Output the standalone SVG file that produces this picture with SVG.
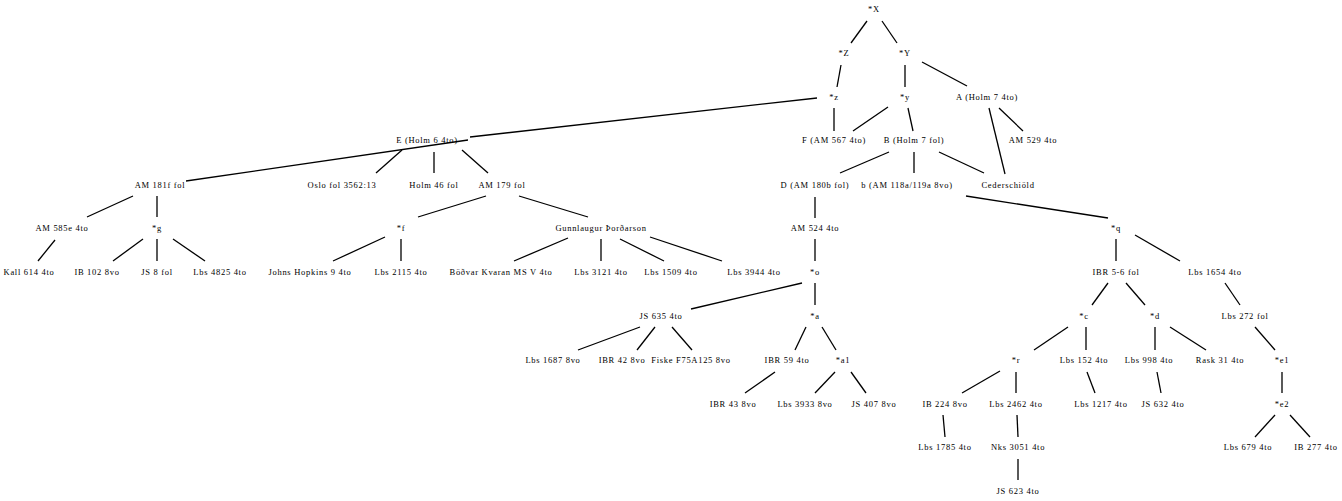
<svg xmlns="http://www.w3.org/2000/svg" width="1342" height="501" viewBox="0 0 1342 501">
<style>
text{font-family:"Liberation Serif","Times New Roman",serif;font-size:8.5px;letter-spacing:0.7px;text-anchor:middle;fill:#000}
line{stroke:#000;stroke-width:1.3}
</style>
<rect width="1342" height="501" fill="#fff"/>
<g id="edges">
<line x1="867" y1="21" x2="851" y2="43"/><line x1="882" y1="21" x2="897" y2="43"/>
<line x1="841" y1="65" x2="837" y2="87"/><line x1="905" y1="65" x2="905" y2="87"/>
<line x1="922" y1="62" x2="967" y2="86"/>
<line x1="817" y1="98" x2="470" y2="137"/>
<line x1="834" y1="108" x2="834" y2="131"/><line x1="888" y1="107" x2="853" y2="131"/>
<line x1="908" y1="108" x2="913" y2="131"/><line x1="989" y1="108" x2="1005" y2="174"/>
<line x1="999" y1="108" x2="1023" y2="131"/>
<line x1="889" y1="152" x2="840" y2="173"/><line x1="914" y1="152" x2="914" y2="173"/>
<line x1="939" y1="152" x2="984" y2="173"/>
<line x1="966" y1="196" x2="1108" y2="218"/>
<line x1="815" y1="197" x2="815" y2="218"/>
<line x1="468" y1="140" x2="186" y2="181"/>
<line x1="133" y1="196" x2="87" y2="217"/><line x1="157" y1="196" x2="157" y2="217"/>
<line x1="143" y1="239" x2="113" y2="261"/><line x1="157" y1="239" x2="157" y2="261"/>
<line x1="173" y1="239" x2="205" y2="261"/><line x1="55" y1="240" x2="38" y2="261"/>
<line x1="402" y1="150" x2="376" y2="173"/><line x1="434" y1="152" x2="434" y2="173"/>
<line x1="462" y1="150" x2="488" y2="173"/>
<line x1="486" y1="196" x2="418" y2="217"/>
<line x1="385" y1="237" x2="333" y2="261"/><line x1="401" y1="239" x2="401" y2="261"/>
<line x1="519" y1="196" x2="588" y2="217"/>
<line x1="568" y1="238" x2="514" y2="261"/><line x1="601" y1="239" x2="601" y2="261"/>
<line x1="620" y1="239" x2="664" y2="261"/><line x1="650" y1="237" x2="722" y2="261"/>
<line x1="815" y1="239" x2="815" y2="261"/>
<line x1="802" y1="283" x2="691" y2="309"/><line x1="815" y1="283" x2="815" y2="305"/>
<line x1="640" y1="327" x2="578" y2="350"/><line x1="655" y1="327" x2="637" y2="350"/>
<line x1="672" y1="327" x2="692" y2="350"/>
<line x1="806" y1="327" x2="795" y2="350"/><line x1="822" y1="327" x2="836" y2="350"/>
<line x1="775" y1="372" x2="745" y2="393"/><line x1="835" y1="372" x2="815" y2="393"/>
<line x1="851" y1="372" x2="866" y2="393"/>
<line x1="1116" y1="239" x2="1116" y2="261"/><line x1="1135" y1="235" x2="1180" y2="261"/>
<line x1="1108" y1="283" x2="1092" y2="305"/><line x1="1126" y1="283" x2="1145" y2="305"/>
<line x1="1068" y1="327" x2="1034" y2="350"/><line x1="1086" y1="327" x2="1086" y2="350"/>
<line x1="1155" y1="327" x2="1155" y2="350"/><line x1="1170" y1="327" x2="1206" y2="350"/>
<line x1="1225" y1="283" x2="1240" y2="305"/><line x1="1255" y1="327" x2="1275" y2="350"/>
<line x1="1282" y1="372" x2="1282" y2="393"/>
<line x1="1275" y1="415" x2="1255" y2="437"/><line x1="1290" y1="415" x2="1310" y2="437"/>
<line x1="1000" y1="371" x2="962" y2="393"/><line x1="1016" y1="372" x2="1016" y2="393"/>
<line x1="1087" y1="372" x2="1095" y2="393"/><line x1="1157" y1="372" x2="1161" y2="393"/>
<line x1="943" y1="415" x2="945" y2="437"/><line x1="1017" y1="415" x2="1018" y2="437"/>
<line x1="1018" y1="459" x2="1018" y2="480"/>
</g>
<g id="X"><text x="874" y="12">*X</text></g>
<g id="Z"><text x="844" y="56">*Z</text></g>
<g id="Y"><text x="905" y="56">*Y</text></g>
<g id="z"><text x="834" y="100">*z</text></g>
<g id="y"><text x="905" y="100">*y</text></g>
<g id="A"><text x="987" y="100">A (Holm 7 4to)</text></g>
<g id="E"><text x="427" y="143">E (Holm 6 4to)</text></g>
<g id="F"><text x="834" y="143">F (AM 567 4to)</text></g>
<g id="B"><text x="914" y="143">B (Holm 7 fol)</text></g>
<g id="AM529"><text x="1033" y="143">AM 529 4to</text></g>
<g id="AM181f"><text x="160" y="188">AM 181f fol</text></g>
<g id="Oslo"><text x="342" y="188">Oslo fol 3562:13</text></g>
<g id="Holm46"><text x="434" y="188">Holm 46 fol</text></g>
<g id="AM179"><text x="502" y="188">AM 179 fol</text></g>
<g id="D"><text x="815" y="188">D (AM 180b fol)</text></g>
<g id="b"><text x="907" y="188">b (AM 118a/119a 8vo)</text></g>
<g id="Ceder"><text x="1008" y="188">Cederschiöld</text></g>
<g id="AM585e"><text x="62" y="231">AM 585e 4to</text></g>
<g id="g"><text x="157" y="231">*g</text></g>
<g id="f"><text x="401" y="231">*f</text></g>
<g id="Gunn"><text x="601" y="231">Gunnlaugur Þorðarson</text></g>
<g id="AM524"><text x="815" y="231">AM 524 4to</text></g>
<g id="q"><text x="1116" y="231">*q</text></g>
<g id="Kall614"><text x="29" y="275">Kall 614 4to</text></g>
<g id="IB102"><text x="97" y="275">IB 102 8vo</text></g>
<g id="JS8"><text x="157" y="275">JS 8 fol</text></g>
<g id="Lbs4825"><text x="220" y="275">Lbs 4825 4to</text></g>
<g id="Johns"><text x="310" y="275">Johns Hopkins 9 4to</text></g>
<g id="Lbs2115"><text x="401" y="275">Lbs 2115 4to</text></g>
<g id="Bodvar"><text x="501" y="275">Böðvar Kvaran MS V 4to</text></g>
<g id="Lbs3121"><text x="601" y="275">Lbs 3121 4to</text></g>
<g id="Lbs1509"><text x="671" y="275">Lbs 1509 4to</text></g>
<g id="Lbs3944"><text x="754" y="275">Lbs 3944 4to</text></g>
<g id="o"><text x="815" y="275">*o</text></g>
<g id="IBR56"><text x="1116" y="275">IBR 5-6 fol</text></g>
<g id="Lbs1654"><text x="1215" y="275">Lbs 1654 4to</text></g>
<g id="JS635"><text x="661" y="319">JS 635 4to</text></g>
<g id="a"><text x="815" y="319">*a</text></g>
<g id="c"><text x="1084" y="319">*c</text></g>
<g id="d"><text x="1155" y="319">*d</text></g>
<g id="Lbs272"><text x="1245" y="319">Lbs 272 fol</text></g>
<g id="Lbs1687"><text x="553" y="363">Lbs 1687 8vo</text></g>
<g id="IBR42"><text x="622" y="363">IBR 42 8vo</text></g>
<g id="Fiske"><text x="691" y="363">Fiske F75A125 8vo</text></g>
<g id="IBR59"><text x="787" y="363">IBR 59 4to</text></g>
<g id="a1"><text x="843" y="363">*a1</text></g>
<g id="r"><text x="1016" y="363">*r</text></g>
<g id="Lbs152"><text x="1084" y="363">Lbs 152 4to</text></g>
<g id="Lbs998"><text x="1149" y="363">Lbs 998 4to</text></g>
<g id="Rask31"><text x="1220" y="363">Rask 31 4to</text></g>
<g id="e1"><text x="1282" y="363">*e1</text></g>
<g id="IBR43"><text x="733" y="407">IBR 43 8vo</text></g>
<g id="Lbs3933"><text x="805" y="407">Lbs 3933 8vo</text></g>
<g id="JS407"><text x="874" y="407">JS 407 8vo</text></g>
<g id="IB224"><text x="945" y="407">IB 224 8vo</text></g>
<g id="Lbs2462"><text x="1016" y="407">Lbs 2462 4to</text></g>
<g id="Lbs1217"><text x="1101" y="407">Lbs 1217 4to</text></g>
<g id="JS632"><text x="1163" y="407">JS 632 4to</text></g>
<g id="e2"><text x="1282" y="407">*e2</text></g>
<g id="Lbs1785"><text x="945" y="450">Lbs 1785 4to</text></g>
<g id="Nks3051"><text x="1018" y="450">Nks 3051 4to</text></g>
<g id="Lbs679"><text x="1248" y="450">Lbs 679 4to</text></g>
<g id="IB277"><text x="1316" y="450">IB 277 4to</text></g>
<g id="JS623"><text x="1018" y="494">JS 623 4to</text></g>
</svg>
